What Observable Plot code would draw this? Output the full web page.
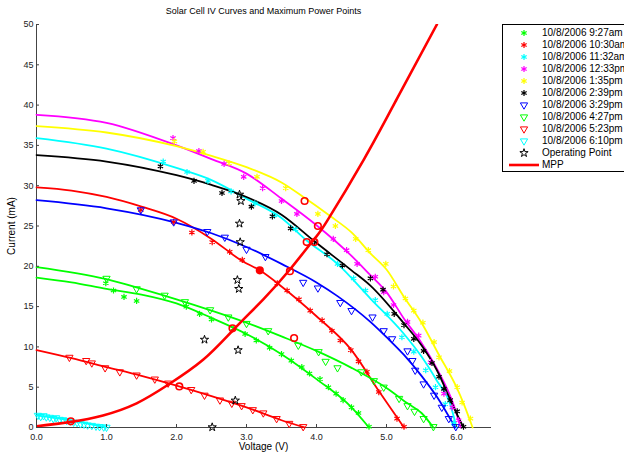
<!DOCTYPE html>
<html><head><meta charset="utf-8">
<script src="https://cdn.jsdelivr.net/npm/d3@7"></script>
<script src="https://cdn.jsdelivr.net/npm/@observablehq/plot@0.6"></script>
<style>
body{margin:0;background:#fff;font-family:"Liberation Sans",Arial,sans-serif;overflow:hidden}
#wrap{position:relative;width:624px;height:455px;overflow:hidden}
#title{position:absolute;top:6px;left:0;width:527px;text-align:center;font-size:9px;line-height:11px}
#xlabel{position:absolute;top:441px;left:0;width:527px;text-align:center;font-size:10px;line-height:12px}
#ylabel{position:absolute;left:12px;top:226px;transform:translate(-50%,-50%) rotate(-90deg);font-size:10px;white-space:nowrap;line-height:12px}
#legend{position:absolute;left:502px;top:24px;width:140px;height:146px;border:1px solid #000;background:#fff;font-size:10px}
.row{position:absolute;left:0;height:12px;line-height:12px;white-space:nowrap}
.row svg{position:absolute;left:0;top:0}
.row span{position:absolute;left:39px;top:0}
</style></head><body>
<div id="wrap"><div id="plot"></div>
<div id="title">Solar Cell IV Curves and Maximum Power Points</div>
<div id="xlabel">Voltage (V)</div>
<div id="ylabel">Current (mA)</div>
<div id="legend"></div></div>
<script>
// ---- legend labels ----
const seriesLabels = ["10/8/2006 9:27am","10/8/2006 10:30am","10/8/2006 11:32am","10/8/2006 12:33pm","10/8/2006 1:35pm","10/8/2006 2:39pm","10/8/2006 3:29pm","10/8/2006 4:27pm","10/8/2006 5:23pm","10/8/2006 6:10pm"];
const seriesColors = ["#00ff00","#ff0000","#00ffff","#ff00ff","#ffff00","#000000","#0000ff","#00ff00","#ff0000","#00ffff"];
const seriesSymbols = ["asterisk","asterisk","asterisk","asterisk","asterisk","asterisk","tri","tri","tri","tri"];
const xTicks = [0,1,2,3,4,5,6];
const yTicks = [0,5,10,15,20,25,30,35,40,45,50];

// ---- measured points [V, mA] ----
const pts0927 = [[0.99,17.9],[1.1,17.0],[1.25,16.2],[1.43,15.7],[2.14,15.0],[2.33,14.1],[2.5,13.4],[2.81,12.3],[2.98,11.6],[3.14,10.8],[3.33,9.9],[3.5,9.1],[3.64,8.3],[3.79,7.5],[3.9,6.7],[4.05,6.0],[4.17,5.0],[4.28,4.2],[4.38,3.4],[4.5,2.5],[4.6,1.8],[4.75,0.1]];
const pts1030 = [[1.49,27.0],[1.96,25.5],[2.22,24.2],[2.51,23.0],[2.76,21.8],[2.94,20.8],[3.19,19.5],[3.44,17.9],[3.58,17.0],[3.75,15.9],[3.91,14.5],[4.08,13.3],[4.22,12.0],[4.34,10.8],[4.49,9.6],[4.6,8.2],[4.72,6.9],[4.89,4.4],[5.15,1.1],[5.25,0.1]];
const pts1132 = [[1.81,33.0],[2.15,31.7],[2.45,30.6],[2.78,29.3],[3.12,27.8],[3.4,26.3],[3.7,24.6],[4.3,20.3],[4.53,18.5],[4.7,17.0],[4.84,15.8],[5.01,14.1],[5.22,11.2],[5.39,9.4],[5.56,7.1],[5.7,5.0],[5.84,2.9],[5.96,0.5]];
const pts1233 = [[1.95,35.9],[2.32,34.3],[2.68,32.7],[2.96,31.1],[3.23,29.7],[3.5,28.1],[3.72,26.5],[4.24,23.4],[4.43,22.0],[4.58,20.3],[4.84,18.7],[4.96,16.8],[5.1,15.2],[5.3,13.1],[5.46,11.4],[5.63,8.1],[5.82,4.2],[5.94,2.5],[6.03,0.9]];
const pts0135 = [[1.97,35.5],[2.38,34.2],[2.75,32.8],[3.15,31.1],[3.56,29.7],[4.02,26.5],[4.27,25.0],[4.56,23.4],[4.74,22.0],[4.99,20.3],[5.1,17.5],[5.27,16.0],[5.39,14.5],[5.52,13.0],[5.68,10.6],[5.75,8.7],[5.9,7.0],[6.01,5.0],[6.08,3.1],[6.2,1.1]];
const pts0239 = [[1.77,32.4],[2.25,30.6],[2.65,29.1],[3.07,27.4],[3.37,26.2],[3.63,24.7],[3.97,23.0],[4.15,21.5],[4.37,20.1],[4.77,18.5],[4.95,17.1],[5.11,14.1],[5.25,12.7],[5.39,11.0],[5.53,9.5],[5.65,8.0],[5.75,6.3],[5.82,4.8],[5.91,3.4],[6.01,2.0],[6.1,0.1]];
const pts0329 = [[1.49,27.0],[1.96,25.5],[2.44,24.3],[2.69,23.6],[3.0,22.1],[3.27,21.2],[3.81,18.0],[4.02,17.3],[4.34,15.5],[4.5,14.5],[4.8,13.7],[4.96,12.0],[5.08,11.0],[5.3,9.5],[5.37,8.3],[5.41,7.1],[5.53,5.4],[5.68,4.0],[5.79,2.5],[5.89,1.1],[5.99,0.1]];
const pts0427 = [[1.0,18.5],[1.43,17.2],[1.83,16.4],[2.12,15.6],[2.48,14.6],[2.74,13.7],[3.0,12.9],[3.31,12.0],[3.74,10.2],[4.03,9.4],[4.13,8.2],[4.3,7.4],[4.64,6.9],[4.82,5.8],[4.96,5.0],[5.18,3.6],[5.3,2.7],[5.4,2.0],[5.53,1.1],[5.67,0.1]];
const pts0523 = [[0.47,8.7],[0.71,8.3],[0.79,8.0],[0.98,7.4],[1.19,6.9],[1.43,6.5],[1.69,6.0],[1.88,5.5],[2.21,4.7],[2.4,4.0],[2.62,3.4],[2.79,3.0],[2.93,2.7],[3.09,2.2],[3.24,1.8],[3.43,1.1],[3.61,0.5],[3.81,0.1]];
const pts0610 = [[0.02,1.5],[0.06,1.35],[0.1,1.45],[0.14,1.3],[0.19,1.25],[0.24,1.1],[0.28,1.2],[0.33,1.0],[0.38,0.95],[0.43,0.85],[0.48,0.8],[0.53,0.65],[0.58,0.6],[0.63,0.45],[0.68,0.4],[0.73,0.3],[0.79,0.25],[0.85,0.15],[0.9,0.1],[0.96,0.05],[1.0,0.02]];

// ---- fitted curves [V, mA] ----
const fit0927 = [[0,18.6],[0.5,18.0],[1,17.2],[1.5,16.5],[2,15.4],[2.5,13.6],[3,11.6],[3.5,9.1],[4,6.0],[4.5,2.5],[4.75,0]];
const fit1030 = [[0,29.8],[0.5,29.4],[1,28.6],[1.5,27.4],[2,25.9],[2.5,23.4],[2.93,20.7],[3.19,19.5],[3.5,17.5],[4,13.8],[4.5,9.6],[4.9,4.4],[5.25,0]];
const fit1132 = [[0,35.9],[1,34.6],[2,32.2],[2.5,30.7],[3,28.4],[3.5,26.0],[3.86,23.2],[4.3,20.3],[4.77,16.0],[5.25,11.6],[5.5,8.8],[5.72,5.8],[5.91,2.9],[6.0,0]];
const fit1233 = [[0,38.8],[1,37.8],[2,35.0],[2.5,33.3],[3,31.5],[3.5,28.4],[4,25.1],[4.5,21.3],[4.77,18.9],[5,16.8],[5.25,13.5],[5.5,10.5],[5.72,7.3],[5.96,2.8],[6.06,0]];
const fit0135 = [[0,37.4],[1,36.6],[2,34.9],[2.5,33.7],[3,32.3],[3.5,30.4],[3.83,28.5],[4.2,26.2],[4.5,24.2],[4.77,21.6],[5,19.6],[5.25,16.2],[5.5,13.0],[5.75,9.0],[6,5.0],[6.1,3.0],[6.23,0]];
const fit0239 = [[0,33.8],[1,33.0],[2,31.3],[2.5,30.1],[3,28.6],[3.5,26.4],[3.97,23.1],[4.5,19.5],[4.77,17.6],[5.25,12.9],[5.5,10.2],[5.72,7.1],[5.96,2.5],[6.1,0]];
const fit0329 = [[0,28.2],[1,27.2],[2,25.4],[2.5,24.1],[3,22.4],[3.5,20.3],[4,18.0],[4.3,16.3],[4.77,13.1],[5,11.2],[5.25,9.0],[5.5,6.4],[5.72,3.8],[5.98,0]];
const fit0427 = [[0,19.9],[1,18.4],[1.5,17.2],[2,15.9],[2.5,14.5],[3,13.0],[3.5,11.3],[4,9.5],[4.5,7.4],[5,4.9],[5.3,3.0],[5.5,1.8],[5.67,0]];
const fit0523 = [[0,9.6],[0.5,8.6],[1,7.5],[1.5,6.4],[2,5.2],[2.5,3.9],[3,2.5],[3.5,0.9],[3.83,0]];
const fit0610 = [[0,1.5],[0.25,1.2],[0.5,0.85],[0.75,0.45],[1.0,0]];

// ---- operating points, maximum power points, MPP curve ----
const operatingPts = [[2.90,28.9],[2.92,28.1],[2.90,25.3],[2.91,23.0],[2.87,18.3],[2.89,17.2],[2.40,10.9],[2.88,9.6],[2.84,3.35],[2.51,0.04]];
const mppPts = [[0.49,0.77],[2.04,5.1],[2.80,12.3],[3.68,11.1],[3.62,19.4],[3.86,23.0],[3.97,23.0],[4.02,25.0],[3.83,28.1]];
const mppFilled = [[3.19,19.5]];
const mppCurve = [[0,0.15],[0.49,0.7],[0.95,1.5],[1.43,3.0],[1.88,5.3],[2.38,8.4],[2.81,12.1],[3.24,15.9],[3.62,19.6],[3.96,23.3],[4.15,25.6],[4.68,33.3],[5.15,40.8],[5.72,50.0]];

const ptsAll = [pts0927,pts1030,pts1132,pts1233,pts0135,pts0239,pts0329,pts0427,pts0523,pts0610];
const fitAll = [fit0927,fit1030,fit1132,fit1233,fit0135,fit0239,fit0329,fit0427,fit0523,fit0610];

const marks = [];
marks.push(Plot.ruleY([0], {stroke: "#444", strokeWidth: 1}));
marks.push(Plot.ruleX([0], {stroke: "#444", strokeWidth: 1}));
fitAll.forEach((f, i) => {
  marks.push(Plot.line(f, {x: d => d[0], y: d => d[1], stroke: seriesColors[i], strokeWidth: 1.8, curve: "monotone-x"}));
});
ptsAll.forEach((p, i) => {
  if (seriesSymbols[i] === "asterisk") {
    marks.push(Plot.dot(p, {x: d => d[0], y: d => d[1], symbol: "asterisk", r: 2.9, stroke: seriesColors[i], strokeWidth: 1.2}));
  } else {
    marks.push(Plot.dot(p, {x: d => d[0], y: d => d[1], symbol: "triangle", rotate: 180, r: 2.7, fill: "none", stroke: seriesColors[i], strokeWidth: 1}));
  }
});
marks.push(Plot.line(mppCurve, {x: d => d[0], y: d => d[1], stroke: "#ff0000", strokeWidth: 2.6, curve: "natural", clip: true}));
marks.push(Plot.dot(operatingPts, {x: d => d[0], y: d => d[1], symbol: "star", r: 2.6, fill: "none", stroke: "#000", strokeWidth: 1}));
marks.push(Plot.dot(mppPts, {x: d => d[0], y: d => d[1], r: 3.3, fill: "none", stroke: "#ff0000", strokeWidth: 1.6}));
marks.push(Plot.dot(mppFilled, {x: d => d[0], y: d => d[1], r: 3.3, fill: "#ff0000", stroke: "#ff0000", strokeWidth: 1.6}));
marks.push(Plot.axisX({ticks: xTicks, tickSize: -3, tickPadding: 9, stroke: "#444", fill: "#222", label: null}));
marks.push(Plot.axisY({ticks: yTicks, tickSize: -3, tickPadding: 6, stroke: "#444", fill: "#222", label: null}));

const chart = Plot.plot({
  width: 624, height: 455,
  marginLeft: 36, marginRight: 133, marginTop: 24, marginBottom: 28,
  x: {domain: [0, 6.5]},
  y: {domain: [0, 50]},
  style: {fontFamily: "'Liberation Sans', Arial, sans-serif", fontSize: "9px", background: "#fff", color: "#222"},
  marks
});
document.getElementById("plot").appendChild(chart);

// ---- legend ----
const legend = d3.select("#legend");
const labelsAll = seriesLabels.concat(["Operating Point", "MPP"]);
labelsAll.forEach((lab, i) => {
  const row = legend.append("div").attr("class", "row").style("top", (2 + 12 * i) + "px").style("width", "140px");
  const svg = row.append("svg").attr("width", 40).attr("height", 12);
  if (i < 10) {
    const g = svg.append("path").attr("transform", "translate(21,6)" + (seriesSymbols[i] === "tri" ? " rotate(180)" : ""));
    if (seriesSymbols[i] === "asterisk") {
      g.attr("d", d3.symbol(d3.symbolAsterisk, Math.PI * 2.9 * 2.9)()).attr("stroke", seriesColors[i]).attr("stroke-width", 1.2).attr("fill", "none");
    } else {
      g.attr("d", d3.symbol(d3.symbolTriangle, Math.PI * 2.7 * 2.7)()).attr("stroke", seriesColors[i]).attr("fill", "none");
    }
  } else if (i === 10) {
    svg.append("path").attr("transform", "translate(21,6)").attr("d", d3.symbol(d3.symbolStar, Math.PI * 2.6 * 2.6)()).attr("stroke", "#000").attr("fill", "none");
  } else {
    svg.append("line").attr("x1", 6).attr("x2", 36).attr("y1", 6).attr("y2", 6).attr("stroke", "#ff0000").attr("stroke-width", 2.6);
  }
  row.append("span").text(lab);
});
</script>
</body></html>
